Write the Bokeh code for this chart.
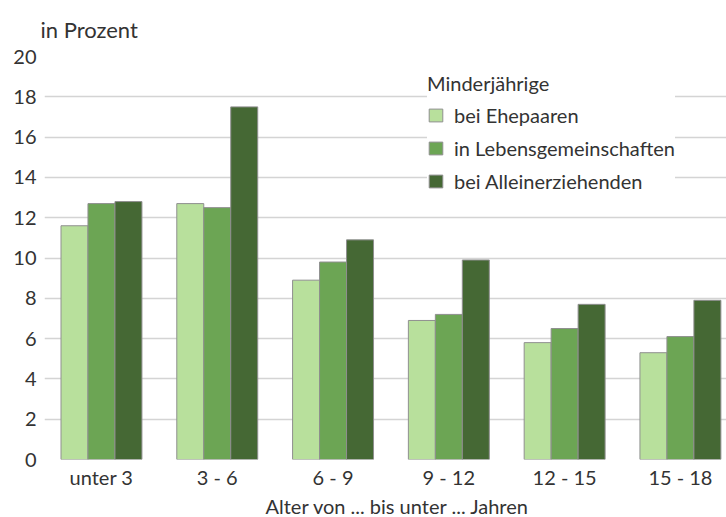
from bokeh.plotting import figure
from bokeh.models import Range1d, Legend, LegendItem, Title, FixedTicker, ColumnDataSource
from bokeh.embed import file_html
from bokeh.resources import INLINE

categories = ["unter 3", "3 - 6", "6 - 9", "9 - 12", "12 - 15", "15 - 18"]
ehepaare = [11.6, 12.7, 8.9, 6.9, 5.8, 5.3]
lebensgemeinschaften = [12.7, 12.5, 9.8, 7.2, 6.5, 6.1]
alleinerziehende = [12.8, 17.5, 10.9, 9.9, 7.7, 7.9]
series_names = ["bei Ehepaaren", "in Lebensgemeinschaften", "bei Alleinerziehenden"]
colors = ["#b8e09c", "#6ca554", "#456834"]
y_ticks = [0, 2, 4, 6, 8, 10, 12, 14, 16, 18, 20]

FONT = "Lato"
TXT = "#333333"

p = figure(width=726, height=517, output_backend="svg", toolbar_location=None,
           x_range=Range1d(-0.492, 5.398), y_range=Range1d(0, 20),
           min_border_left=44, min_border_right=0, min_border_top=55, min_border_bottom=56)
p.outline_line_color = None
p.background_fill_color = "white"

p.title.text = "in Prozent"
p.title.align = "left"
p.title.offset = -4
p.title.text_font = FONT
p.title.text_font_size = "22px"
p.title.text_font_style = "normal"
p.title.text_color = TXT
p.title.standoff = 27

xs = list(range(len(categories)))
bw = 0.233
offsets = [-bw, 0.0, bw]
renderers = []
for vals, off, col in zip([ehepaare, lebensgemeinschaften, alleinerziehende], offsets, colors):
    src = ColumnDataSource(dict(x=[x + off for x in xs], top=vals))
    r = p.vbar(x="x", top="top", bottom=0, width=bw, source=src,
               fill_color=col, line_color="#8f8f8f", line_width=1)
    renderers.append(r)

p.xaxis.ticker = FixedTicker(ticks=xs)
p.xaxis.major_label_overrides = {i: c for i, c in enumerate(categories)}
p.yaxis.ticker = FixedTicker(ticks=y_ticks)
for ax in (p.xaxis, p.yaxis):
    ax.axis_line_color = None
    ax.major_tick_line_color = None
    ax.minor_tick_line_color = None
    ax.major_tick_out = 0
    ax.major_tick_in = 0
    ax.minor_tick_out = 0
    ax.major_label_text_font = FONT
    ax.major_label_text_font_size = "20px"
    ax.major_label_text_color = TXT
p.xaxis.major_label_standoff = 5
p.yaxis.major_label_standoff = 8

p.xgrid.grid_line_color = None
p.ygrid.ticker = FixedTicker(ticks=y_ticks)
p.ygrid.grid_line_color = "#d4d4d4"
p.ygrid.grid_line_width = 1.5

xtitle = Title(text="Alter von ... bis unter ... Jahren", align="left", offset=221,
               text_font=FONT, text_font_size="20px", text_font_style="normal",
               text_color=TXT, standoff=0)
p.add_layout(xtitle, "below")

legend = Legend(items=[LegendItem(label=n, renderers=[r]) for n, r in zip(series_names, renderers)],
                location=(383, 266))
legend.title = "Minderjährige"
legend.title_text_font = FONT
legend.title_text_font_size = "20px"
legend.title_text_font_style = "normal"
legend.title_text_color = TXT
legend.title_standoff = 8
legend.label_text_font = FONT
legend.label_text_font_size = "20px"
legend.label_text_color = TXT
legend.label_height = 24
legend.glyph_width = 17
legend.glyph_height = 16
legend.label_standoff = 10
legend.spacing = 9
legend.padding = 10
legend.border_line_color = None
legend.background_fill_color = "white"
legend.background_fill_alpha = 1.0
p.add_layout(legend, "center")

open("out.html", "w").write(file_html(p, INLINE))
